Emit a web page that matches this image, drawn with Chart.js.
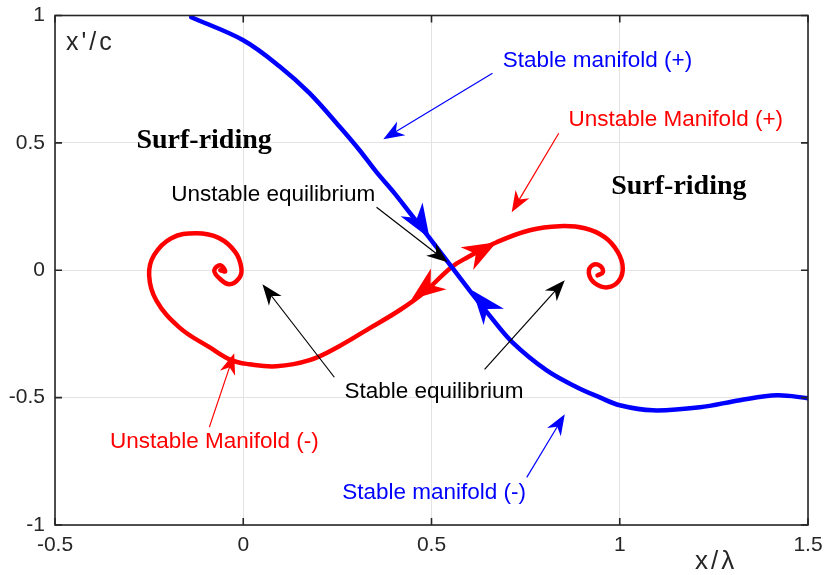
<!DOCTYPE html>
<html lang="en">
<head>
<meta charset="UTF-8">
<title>Phase plane: surf-riding manifolds</title>
<script src="https://cdn.jsdelivr.net/npm/chart.js"></script>
<style>
  html, body { margin: 0; padding: 0; background: #ffffff; }
  canvas { display: block; }
</style>
</head>
<body>
<canvas id="chart" width="826" height="575"></canvas>
<script>
// axis ticks
const xTicks = [-0.5, 0, 0.5, 1, 1.5];
const xTickLabels = ["-0.5", "0", "0.5", "1", "1.5"];
const yTicks = [-1, -0.5, 0, 0.5, 1];
const yTickLabels = ["-1", "-0.5", "0", "0.5", "1"];

// stable manifold (blue)
const stableX = [-0.138, 0, 0.096, 0.176, 0.255, 0.309, 0.354, 0.402, 0.441, 0.495, 0.556, 0.601,
                 0.654, 0.715, 0.806, 0.886, 0.947, 1.0, 1.088, 1.213, 1.319, 1.418, 1.5];
const stableY = [0.993, 0.903, 0.801, 0.695, 0.565, 0.471, 0.385, 0.302, 0.228, 0.126, 0.008, -0.079,
                 -0.177, -0.283, -0.393, -0.459, -0.499, -0.530, -0.550, -0.538, -0.510, -0.491, -0.502];

// unstable manifold (red), from the left focus to the right focus
const unstableX = [-0.061, -0.048, -0.061, -0.077, -0.064, -0.037, -0.011, -0.005, -0.021, -0.064, -0.125,
                   -0.191, -0.237, -0.250, -0.231, -0.170, -0.090, -0.032, 0.016, 0.088, 0.176, 0.255,
                   0.335, 0.415, 0.481, 0.553, 0.596, 0.673, 0.761, 0.840, 0.907, 0.960, 0.995, 1.008,
                   0.997, 0.968, 0.934, 0.918, 0.928, 0.949, 0.955, 0.941];
const unstableY = [0, -0.004, 0.020, 0, -0.031, -0.055, -0.031, 0.008, 0.071, 0.126, 0.145,
                   0.126, 0.059, -0.020, -0.118, -0.224, -0.302, -0.353, -0.369, -0.377, -0.353, -0.298,
                   -0.228, -0.157, -0.086, 0.012, 0.051, 0.110, 0.157, 0.173, 0.165, 0.130, 0.071, 0.008,
                   -0.043, -0.067, -0.051, -0.012, 0.020, 0.016, -0.008, -0.020];

// flow direction heads on the curves: from -> to (tip)
const stableHeadFrom = [[0.447, 0.239], [0.668, -0.188]];
const stableHeadTo = [[0.495, 0.126], [0.609, -0.079]];
const unstableHeadFrom = [[0.596, 0.047], [0.511, -0.043]];
const unstableHeadTo = [[0.673, 0.110], [0.447, -0.114]];

// text notes (left edge, middle)
const noteText = ["Stable manifold (+)", "Unstable Manifold (+)", "Unstable equilibrium",
                  "Stable equilibrium", "Unstable Manifold (-)", "Stable manifold (-)"];
const noteX = [0.689, 0.864, -0.191, 0.269, -0.354, 0.263];
const noteY = [0.824, 0.589, 0.298, -0.479, -0.675, -0.875];
const noteColor = ["#0000ff", "#ff0000", "#000000", "#000000", "#ff0000", "#0000ff"];

// pointer arrows from notes
const ptrFromX = [0.662, 0.838, 0.354, 0.242, 0.641, -0.090, 0.753];
const ptrFromY = [0.773, 0.538, 0.247, -0.420, -0.389, -0.616, -0.813];
const ptrToX = [0.372, 0.713, 0.543, 0.051, 0.854, -0.024, 0.854];
const ptrToY = [0.514, 0.228, 0.031, -0.055, -0.039, -0.326, -0.565];
const ptrColor = ["#0000ff", "#ff0000", "#000000", "#000000", "#000000", "#ff0000", "#0000ff"];

// region labels (centre)
const regionText = ["Surf-riding", "Surf-riding"];
const regionX = [-0.104, 1.157];
const regionY = [0.510, 0.326];

const sansFont = "'Liberation Sans', Arial, sans-serif";

function head(ctx, x0, y0, x1, y1, len, half, color) {
    const dx = x1 - x0, dy = y1 - y0, d = Math.hypot(dx, dy);
    const ux = dx / d, uy = dy / d;
    const bx = x1 - ux * len, by = y1 - uy * len;
    ctx.fillStyle = color;
    ctx.beginPath();
    ctx.moveTo(x1, y1);
    ctx.lineTo(bx - uy * half, by + ux * half);
    ctx.lineTo(x1 - ux * len * 0.7, y1 - uy * len * 0.7);
    ctx.lineTo(bx + uy * half, by - ux * half);
    ctx.closePath();
    ctx.fill();
}

const decor = {
    id: "decor",
    afterDatasetsDraw(chart) {
        const { ctx, chartArea: a, scales: { x, y } } = chart;
        ctx.save();

        // arrowheads on the manifolds
        stableHeadTo.forEach((t, i) => {
            const f = stableHeadFrom[i];
            head(ctx, x.getPixelForValue(f[0]), y.getPixelForValue(f[1]),
                 x.getPixelForValue(t[0]), y.getPixelForValue(t[1]), 34, 13, "#0000ff");
        });
        unstableHeadTo.forEach((t, i) => {
            const f = unstableHeadFrom[i];
            head(ctx, x.getPixelForValue(f[0]), y.getPixelForValue(f[1]),
                 x.getPixelForValue(t[0]), y.getPixelForValue(t[1]), 34, 13, "#ff0000");
        });

        // pointer arrows
        ptrFromX.forEach((fx, i) => {
            const x0 = x.getPixelForValue(fx), y0 = y.getPixelForValue(ptrFromY[i]);
            const x1 = x.getPixelForValue(ptrToX[i]), y1 = y.getPixelForValue(ptrToY[i]);
            const d = Math.hypot(x1 - x0, y1 - y0);
            ctx.strokeStyle = ptrColor[i];
            ctx.lineWidth = 1.2;
            ctx.beginPath();
            ctx.moveTo(x0, y0);
            ctx.lineTo(x1 - (x1 - x0) / d * 12, y1 - (y1 - y0) / d * 12);
            ctx.stroke();
            head(ctx, x0, y0, x1, y1, 21, 8, ptrColor[i]);
        });

        // notes
        ctx.font = "22.5px " + sansFont;
        ctx.textAlign = "left";
        ctx.textBaseline = "middle";
        noteText.forEach((t, i) => {
            ctx.fillStyle = noteColor[i];
            ctx.fillText(t, x.getPixelForValue(noteX[i]), y.getPixelForValue(noteY[i]));
        });

        ctx.font = "bold 28px 'Liberation Serif', 'Times New Roman', serif";
        ctx.textAlign = "center";
        ctx.fillStyle = "#000000";
        regionText.forEach((t, i) => {
            ctx.fillText(t, x.getPixelForValue(regionX[i]), y.getPixelForValue(regionY[i]));
        });

        // axis titles
        ctx.fillStyle = "#262626";
        ctx.textAlign = "left";
        ctx.textBaseline = "alphabetic";
        ctx.font = "25px " + sansFont;
        ctx.letterSpacing = "3px";
        ctx.fillText("x'/c", a.left + 11, a.top + 34);
        ctx.font = "26px " + sansFont;
        ctx.fillText("x/\u03bb", a.right - 113, a.bottom + 44);
        ctx.letterSpacing = "0px";

        // box and inward ticks
        ctx.strokeStyle = "#262626";
        ctx.lineWidth = 1.6;
        ctx.strokeRect(a.left, a.top, a.right - a.left, a.bottom - a.top);
        ctx.beginPath();
        xTicks.forEach(v => {
            const px = x.getPixelForValue(v);
            ctx.moveTo(px, a.bottom); ctx.lineTo(px, a.bottom - 7);
            ctx.moveTo(px, a.top); ctx.lineTo(px, a.top + 7);
        });
        yTicks.forEach(v => {
            const py = y.getPixelForValue(v);
            ctx.moveTo(a.left, py); ctx.lineTo(a.left + 7, py);
            ctx.moveTo(a.right, py); ctx.lineTo(a.right - 7, py);
        });
        ctx.stroke();
        ctx.restore();
    }
};

const toPoints = (xs, ys) => xs.map((v, i) => ({ x: v, y: ys[i] }));

new Chart(document.getElementById("chart"), {
    type: "scatter",
    data: {
        datasets: [
            {
                label: "Stable manifold",
                data: toPoints(stableX, stableY),
                showLine: true,
                borderColor: "#0000ff",
                borderWidth: 4.5,
                pointRadius: 0,
                tension: 0.35,
                borderCapStyle: "round",
                borderJoinStyle: "round"
            },
            {
                label: "Unstable manifold",
                data: toPoints(unstableX, unstableY),
                showLine: true,
                borderColor: "#ff0000",
                borderWidth: 4.5,
                pointRadius: 0,
                tension: 0.4,
                borderCapStyle: "round",
                borderJoinStyle: "round"
            }
        ]
    },
    options: {
        responsive: false,
        animation: false,
        devicePixelRatio: 1,
        layout: { padding: { top: 15.5, right: 18, left: 0, bottom: 0 } },
        plugins: { legend: { display: false }, tooltip: { enabled: false } },
        scales: {
            x: {
                type: "linear",
                min: -0.5,
                max: 1.5,
                afterBuildTicks: s => { s.ticks = xTicks.map(v => ({ value: v })); },
                afterFit: s => { s.height = 50; s.paddingLeft = 0; s.paddingRight = 0; },
                ticks: {
                    callback: (v, i) => xTickLabels[i],
                    font: { family: sansFont, size: 21 },
                    color: "#262626",
                    padding: 8,
                    maxRotation: 0,
                    autoSkip: false
                },
                grid: { color: "#e3e3e3", drawTicks: false, lineWidth: 1 },
                border: { display: false }
            },
            y: {
                type: "linear",
                min: -1,
                max: 1,
                afterBuildTicks: s => { s.ticks = yTicks.map(v => ({ value: v })); },
                afterFit: s => { s.width = 55; s.paddingTop = 0; s.paddingBottom = 0; },
                ticks: {
                    callback: (v, i) => yTickLabels[i],
                    font: { family: sansFont, size: 21 },
                    color: "#262626",
                    padding: 10,
                    autoSkip: false
                },
                grid: { color: "#e3e3e3", drawTicks: false, lineWidth: 1 },
                border: { display: false }
            }
        }
    },
    plugins: [decor]
});
</script>
</body>
</html>
